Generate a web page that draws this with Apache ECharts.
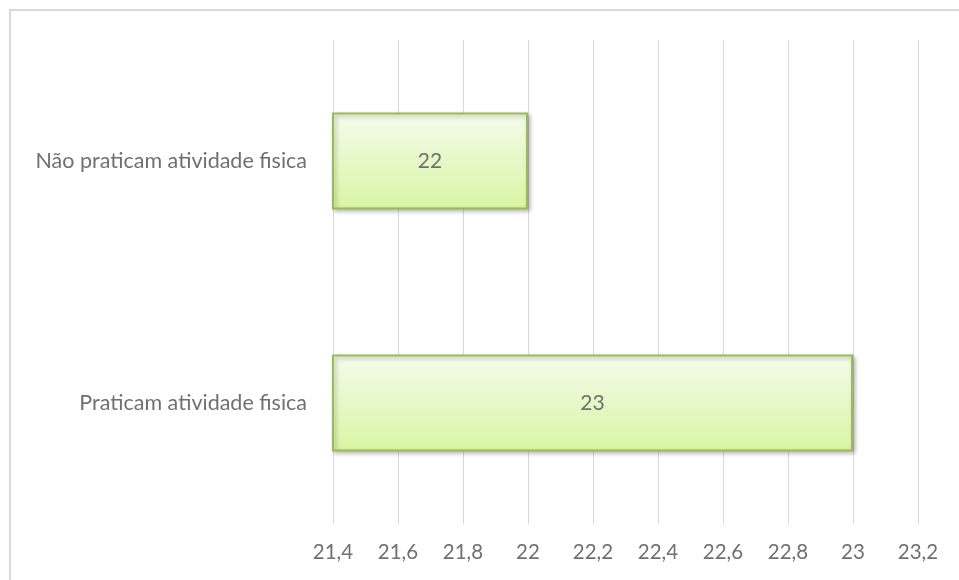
<!DOCTYPE html>
<html>
<head>
<meta charset="utf-8">
<script src="https://cdn.jsdelivr.net/npm/echarts@6/dist/echarts.min.js"></script>
<style>
  html, body { margin: 0; padding: 0; background: #ffffff; }
  #chart { width: 959px; height: 580px; }
</style>
</head>
<body>
<div id="chart"></div>
<script>
// Average values by physical activity group
const categories = ['Praticam atividade fisica', 'Não praticam atividade fisica'];
const values = [23, 22];
const axisMin = 21.4;
const axisMax = 23.2;
const axisStep = 0.2;

const fmt = v => String(Number(Number(v).toFixed(1))).replace('.', ',');

const chart = echarts.init(document.getElementById('chart'), null, { renderer: 'canvas' });
chart.setOption({
  backgroundColor: '#ffffff',
  animation: false,
  textStyle: { fontFamily: 'Lato' },
  graphic: [{
    type: 'rect',
    shape: { x: 10, y: 10, width: 1000, height: 1000 },
    style: { fill: 'none', stroke: '#d9d9d9', lineWidth: 2 },
    silent: true,
    z: -1
  }],
  grid: { left: 333, right: 41, top: 40, height: 484, containLabel: false },
  xAxis: {
    type: 'value',
    min: axisMin,
    max: axisMax,
    interval: axisStep,
    axisLine: { show: false },
    axisTick: { show: false },
    splitLine: { show: true, lineStyle: { color: '#d9d9d9', width: 1 } },
    axisLabel: {
      color: '#707070',
      fontSize: 20.5,
      margin: 18,
      formatter: fmt
    }
  },
  yAxis: {
    type: 'category',
    data: categories,
    axisLine: { show: false },
    axisTick: { show: false },
    axisLabel: { color: '#707070', fontSize: 21.5, margin: 26 }
  },
  series: [{
    type: 'bar',
    data: values,
    barWidth: '40%',
    itemStyle: {
      color: new echarts.graphic.LinearGradient(0, 0, 0, 1, [
        { offset: 0, color: '#f4fbea' },
        { offset: 1, color: '#d8f6a4' }
      ]),
      borderColor: '#9bbb59',
      borderWidth: 2,
      shadowColor: 'rgba(0,0,0,0.28)',
      shadowBlur: 4,
      shadowOffsetX: 2,
      shadowOffsetY: 2
    },
    label: {
      show: true,
      position: 'inside',
      color: '#707070',
      fontSize: 21,
      formatter: p => fmt(p.value)
    }
  }]
});
</script>
</body>
</html>
